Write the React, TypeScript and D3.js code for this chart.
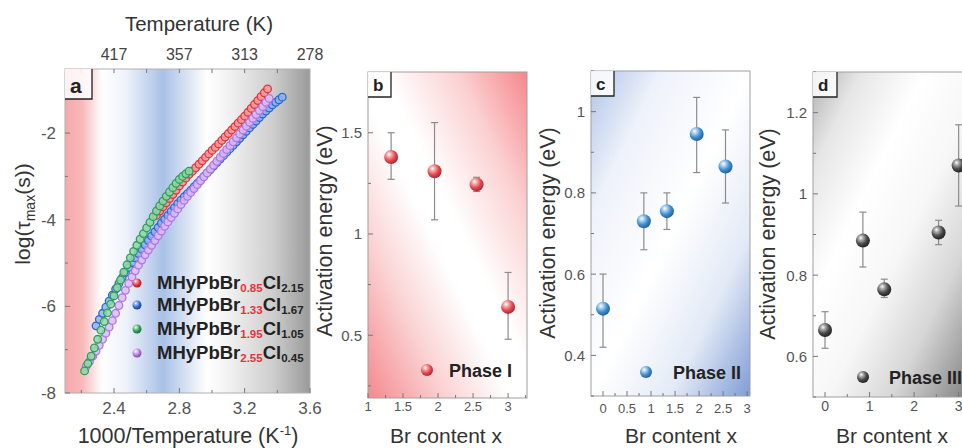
import React from 'react';
import * as d3 from 'd3';

// ---------- Panel a data: 1000/T (K^-1) vs log(tau_max) ----------
const redPts: [number, number][] = [
  [2.66, -3.90], [2.68, -3.80], [2.70, -3.70], [2.72, -3.61], [2.74, -3.51], [2.76, -3.42], [2.78, -3.32],
  [2.80, -3.22], [2.82, -3.13], [2.84, -3.04], [2.86, -2.95], [2.88, -2.88],
  [2.90, -2.80], [2.92, -2.72], [2.94, -2.64], [2.96, -2.56], [2.98, -2.48], [3.00, -2.40], [3.02, -2.33],
  [3.04, -2.25], [3.06, -2.17], [3.08, -2.09], [3.10, -2.01], [3.12, -1.93], [3.14, -1.85], [3.16, -1.77],
  [3.18, -1.69], [3.20, -1.61], [3.22, -1.52], [3.24, -1.43], [3.26, -1.34], [3.28, -1.25], [3.30, -1.16],
  [3.32, -1.07], [3.34, -0.98],
];
const greenPts: [number, number][] = [
  [2.22, -7.49], [2.24, -7.32], [2.26, -7.15], [2.28, -6.96], [2.30, -6.76], [2.32, -6.55], [2.34, -6.35],
  [2.36, -6.15], [2.38, -5.95], [2.40, -5.76], [2.42, -5.57], [2.44, -5.39], [2.46, -5.21], [2.48, -5.04],
  [2.50, -4.88], [2.52, -4.73], [2.54, -4.59], [2.56, -4.45], [2.58, -4.32], [2.60, -4.19], [2.62, -4.06],
  [2.64, -3.93], [2.66, -3.80], [2.68, -3.68], [2.70, -3.57], [2.72, -3.46], [2.74, -3.36], [2.76, -3.26],
  [2.78, -3.16], [2.80, -3.07], [2.82, -3.00], [2.84, -2.94], [2.86, -2.88],
];
const bluePts: [number, number][] = [
  [2.29, -6.45], [2.31, -6.30], [2.33, -6.16], [2.35, -6.02], [2.37, -5.88], [2.39, -5.74], [2.41, -5.60],
  [2.43, -5.47], [2.45, -5.34], [2.47, -5.22], [2.49, -5.10], [2.51, -4.99], [2.53, -4.88], [2.55, -4.78],
  [2.57, -4.68], [2.59, -4.58], [2.61, -4.48], [2.63, -4.38], [2.65, -4.28], [2.67, -4.18], [2.69, -4.08],
  [2.71, -3.99], [2.73, -3.90], [2.75, -3.81], [2.77, -3.72], [2.79, -3.63], [2.81, -3.55], [2.83, -3.47],
  [2.85, -3.40], [2.87, -3.32], [2.89, -3.24], [2.91, -3.16], [2.93, -3.08], [2.95, -3.00], [2.97, -2.92],
  [2.99, -2.84], [3.01, -2.76], [3.03, -2.68], [3.05, -2.60], [3.07, -2.52], [3.09, -2.44], [3.11, -2.36],
  [3.13, -2.28], [3.15, -2.20], [3.17, -2.12], [3.19, -2.04], [3.21, -1.96], [3.23, -1.88], [3.25, -1.80],
  [3.27, -1.72], [3.29, -1.64], [3.31, -1.56], [3.33, -1.49], [3.35, -1.42], [3.37, -1.35], [3.39, -1.29],
  [3.41, -1.23], [3.43, -1.17],
];
const purplePts: [number, number][] = [
  [2.23, -7.38], [2.25, -7.27], [2.27, -7.15], [2.29, -7.03], [2.31, -6.90], [2.33, -6.76], [2.35, -6.62],
  [2.37, -6.48], [2.39, -6.33], [2.41, -6.16], [2.43, -5.98], [2.45, -5.80], [2.47, -5.63], [2.49, -5.47],
  [2.51, -5.32], [2.53, -5.18], [2.55, -5.05], [2.57, -4.93], [2.59, -4.81], [2.61, -4.70], [2.63, -4.59],
  [2.65, -4.48], [2.67, -4.37], [2.69, -4.26], [2.71, -4.15], [2.73, -4.05], [2.75, -3.95], [2.77, -3.85],
  [2.79, -3.75], [2.81, -3.65], [2.83, -3.55], [2.85, -3.46], [2.87, -3.37], [2.89, -3.28], [2.91, -3.19],
  [2.93, -3.10], [2.95, -3.01], [2.97, -2.92], [2.99, -2.83], [3.01, -2.74], [3.03, -2.65], [3.05, -2.56],
  [3.07, -2.47], [3.09, -2.38], [3.11, -2.29], [3.13, -2.20], [3.15, -2.11], [3.17, -2.02], [3.19, -1.93],
  [3.21, -1.84], [3.23, -1.75], [3.25, -1.66], [3.27, -1.57], [3.29, -1.48], [3.31, -1.39], [3.33, -1.29],
  [3.35, -1.20],
];
const legendBrSub = ['0.85', '1.33', '1.95', '2.55'];
const legendClSub = ['2.15', '1.67', '1.05', '0.45'];
const topTempLabels = ['417', '357', '313', '278'];
const topTempPos = [2.4, 2.8, 3.2, 3.6];

// ---------- Panel b: Phase I ----------
const bX = [1.33, 1.95, 2.55, 3.0];
const bY = [1.38, 1.31, 1.245, 0.64];
const bLo = [1.27, 1.07, 1.21, 0.48];
const bHi = [1.50, 1.55, 1.28, 0.81];

// ---------- Panel c: Phase II ----------
const cX = [0, 0.85, 1.33, 1.95, 2.55];
const cY = [0.515, 0.73, 0.755, 0.945, 0.865];
const cLo = [0.42, 0.66, 0.71, 0.85, 0.775];
const cHi = [0.60, 0.80, 0.80, 1.035, 0.955];

// ---------- Panel d: Phase III ----------
const dX = [0, 0.85, 1.33, 2.55, 3.0];
const dY = [0.665, 0.885, 0.765, 0.905, 1.07];
const dLo = [0.62, 0.82, 0.745, 0.875, 0.97];
const dHi = [0.71, 0.955, 0.79, 0.935, 1.17];

const FONT = '"Liberation Sans", Arial, sans-serif';
const fmt = (v: number) => String(+v.toFixed(2));

type Lin = d3.ScaleLinear<number, number>;

function Frame({ x, y, color = '#a0a0a0' }: { x: Lin; y: Lin; color?: string }) {
  const [x0, x1] = x.range();
  const [y0, y1] = y.range();
  return <rect x={x0} y={y1} width={x1 - x0} height={y0 - y1} fill="none" stroke={color} strokeWidth={1} />;
}

function LeftAxis({ x, y, major, minor, fs, gap = 6 }: { x: Lin; y: Lin; major: number[]; minor: number[]; fs: number; gap?: number }) {
  const x0 = x.range()[0];
  return (
    <g>
      {minor.map((v, i) => <line key={'m' + i} x1={x0} x2={x0 + 3} y1={y(v)} y2={y(v)} stroke="#777" />)}
      {major.map((v, i) => (
        <g key={i}>
          <line x1={x0} x2={x0 + 5} y1={y(v)} y2={y(v)} stroke="#777" />
          <text x={x0 - gap} y={y(v)} dy="0.36em" textAnchor="end" fontSize={fs} fill="#555" fontFamily={FONT}>{fmt(v)}</text>
        </g>
      ))}
    </g>
  );
}

function BottomAxis({ x, y, major, minor, fs, base }: { x: Lin; y: Lin; major: number[]; minor: number[]; fs: number; base: number }) {
  const y0 = y.range()[0];
  return (
    <g>
      {minor.map((v, i) => <line key={'m' + i} x1={x(v)} x2={x(v)} y1={y0} y2={y0 - 3} stroke="#777" />)}
      {major.map((v, i) => (
        <g key={i}>
          <line x1={x(v)} x2={x(v)} y1={y0} y2={y0 - 5} stroke="#777" />
          <text x={x(v)} y={base} textAnchor="middle" fontSize={fs} fill="#555" fontFamily={FONT}>{fmt(v)}</text>
        </g>
      ))}
    </g>
  );
}

function PanelLabel({ x, y, letter, w, h, fs }: { x: number; y: number; letter: string; w: number; h: number; fs: number }) {
  return (
    <g>
      <rect x={x} y={y} width={w} height={h} fill="#fff" fillOpacity={0.85} />
      <path d={`M${x},${y + h}H${x + w}V${y}`} fill="none" stroke="#222" strokeWidth={1.3} />
      <text x={x + 5} y={y + h - 6} fontSize={fs} fontWeight="bold" fill="#222" fontFamily={FONT}>{letter}</text>
    </g>
  );
}

function ErrorScatter({ x, y, xs, ys, lo, hi, grad, r = 7 }: { x: Lin; y: Lin; xs: number[]; ys: number[]; lo: number[]; hi: number[]; grad: string; r?: number }) {
  return (
    <g>
      {xs.map((v, i) => (
        <g key={i} stroke="#8c8c8c" strokeWidth={1.2}>
          <line x1={x(v)} x2={x(v)} y1={y(lo[i])} y2={y(hi[i])} />
          <line x1={x(v) - 3.5} x2={x(v) + 3.5} y1={y(lo[i])} y2={y(lo[i])} />
          <line x1={x(v) - 3.5} x2={x(v) + 3.5} y1={y(hi[i])} y2={y(hi[i])} />
        </g>
      ))}
      {xs.map((v, i) => <circle key={'c' + i} cx={x(v)} cy={y(ys[i])} r={r} fill={`url(#${grad})`} />)}
    </g>
  );
}

function Sphere({ id, light, base, dark }: { id: string; light: string; base: string; dark: string }) {
  return (
    <radialGradient id={id} cx="0.38" cy="0.35" r="0.7" fx="0.35" fy="0.3">
      <stop offset="0" stopColor="#ffffff" />
      <stop offset="0.22" stopColor={light} />
      <stop offset="0.6" stopColor={base} />
      <stop offset="1" stopColor={dark} />
    </radialGradient>
  );
}

export default function App() {
  const ax = d3.scaleLinear().domain([2.1, 3.6]).range([65, 310]);
  const ay = d3.scaleLinear().domain([-8, -0.52]).range([393, 69]);
  const bx = d3.scaleLinear().domain([1, 3.27]).range([368, 527]);
  const by = d3.scaleLinear().domain([0.19, 1.8]).range([398, 72]);
  const cx = d3.scaleLinear().domain([-0.25, 3.06]).range([591, 750]);
  const cy = d3.scaleLinear().domain([0.3, 1.1]).range([396, 71]);
  const dx = d3.scaleLinear().domain([-0.27, 3.3]).range([813, 972]);
  const dy = d3.scaleLinear().domain([0.5, 1.3]).range([397, 72]);

  const series = [
    { pts: redPts, color: '#e3343a', fill: '#f49a9d' },
    { pts: bluePts, color: '#2c68d0', fill: '#8fb2ee' },
    { pts: purplePts, color: '#b274e6', fill: '#dcbdf5' },
    { pts: greenPts, color: '#2f9e57', fill: '#8fd6a8' },
  ];
  const legendGrads = ['lg-red', 'lg-blue', 'lg-green', 'lg-purple'];
  const legendRowY = [283, 305, 329, 353];

  const [ax0, ax1] = ax.range();
  const [ay0, ay1] = ay.range();

  return (
    <svg width={962} height={448} style={{ position: 'absolute', left: 0, top: 0, background: '#fff' }} fontFamily={FONT}>
      <defs>
        <linearGradient id="bgA" x1="0" y1="0" x2="1" y2="0">
          <stop offset="0" stopColor="#f7a9ab" />
          <stop offset="0.07" stopColor="#f8b8b9" />
          <stop offset="0.15" stopColor="#ffffff" />
          <stop offset="0.25" stopColor="#eef2fa" />
          <stop offset="0.4" stopColor="#a9c1e7" />
          <stop offset="0.5" stopColor="#dae4f3" />
          <stop offset="0.58" stopColor="#ffffff" />
          <stop offset="0.66" stopColor="#f3f3f3" />
          <stop offset="0.85" stopColor="#cdcdcd" />
          <stop offset="1" stopColor="#9a9a9a" />
        </linearGradient>
        <linearGradient id="bgB" x1="0" y1="1" x2="1" y2="0">
          <stop offset="0" stopColor="#f4898d" />
          <stop offset="0.25" stopColor="#fbd3d4" />
          <stop offset="0.45" stopColor="#ffffff" />
          <stop offset="0.55" stopColor="#ffffff" />
          <stop offset="0.78" stopColor="#fbd0d1" />
          <stop offset="1" stopColor="#f5878b" />
        </linearGradient>
        <linearGradient id="bgC" x1="0" y1="0" x2="1" y2="1">
          <stop offset="0" stopColor="#aec3e8" />
          <stop offset="0.22" stopColor="#eef2fa" />
          <stop offset="0.5" stopColor="#ffffff" />
          <stop offset="0.75" stopColor="#e3eaf6" />
          <stop offset="1" stopColor="#7f9dd6" />
        </linearGradient>
        <linearGradient id="bgD" x1="0" y1="0" x2="1" y2="1">
          <stop offset="0" stopColor="#b0b0b0" />
          <stop offset="0.15" stopColor="#e6e6e6" />
          <stop offset="0.35" stopColor="#ffffff" />
          <stop offset="0.55" stopColor="#f7f7f7" />
          <stop offset="0.75" stopColor="#d6d6d6" />
          <stop offset="1" stopColor="#7e7e7e" />
        </linearGradient>
        <Sphere id="sph-red" light="#f7b3b5" base="#e64a50" dark="#a3242a" />
        <Sphere id="sph-blue" light="#b4d6f2" base="#3f8ed0" dark="#1f5a92" />
        <Sphere id="sph-grey" light="#b0b0b0" base="#4a4a4a" dark="#1c1c1c" />
        <Sphere id="lg-red" light="#f6a0a3" base="#e3343a" dark="#a01e24" />
        <Sphere id="lg-blue" light="#9fbcf0" base="#2c68d0" dark="#17408a" />
        <Sphere id="lg-green" light="#a5dcb8" base="#2f9e57" dark="#1a6a37" />
        <Sphere id="lg-purple" light="#e2cbf7" base="#b274e6" dark="#7a44a8" />
        <clipPath id="clipA"><rect x={ax0} y={ay1} width={ax1 - ax0} height={ay0 - ay1} /></clipPath>
      </defs>

      {/* ================= Panel a ================= */}
      <rect x={ax0} y={ay1} width={ax1 - ax0} height={ay0 - ay1} fill="url(#bgA)" />
      <g clipPath="url(#clipA)">
        {series.map((s, si) => (
          <g key={si}>
            {s.pts.map((p, i) => (
              <circle key={i} cx={ax(p[0])} cy={ay(p[1])} r={3.8} fill={s.fill} fillOpacity={0.85} stroke={s.color} strokeWidth={1.3} />
            ))}
          </g>
        ))}
      </g>
      <Frame x={ax} y={ay} color="#b0b0b0" />
      <LeftAxis x={ax} y={ay} major={[-8, -6, -4, -2]} minor={[-7, -5, -3, -1]} fs={17} gap={9} />
      <BottomAxis x={ax} y={ay} major={[2.4, 2.8, 3.2, 3.6]} minor={[2.2, 2.6, 3.0, 3.4]} fs={17} base={414} />
      {[2.2, 2.4, 2.6, 2.8, 3.0, 3.2, 3.4].map((v, i) => (
        <line key={'tt' + i} x1={ax(v)} x2={ax(v)} y1={ay1} y2={ay1 + 4} stroke="#777" />
      ))}
      {topTempPos.map((v, i) => (
        <text key={'tl' + i} x={ax(v)} y={60} textAnchor="middle" fontSize={16} fill="#444">{topTempLabels[i]}</text>
      ))}
      <text x={199} y={31} textAnchor="middle" fontSize={20.5} fill="#333">Temperature (K)</text>
      <text x={188} y={443} textAnchor="middle" fontSize={21.5} fill="#333">
        1000/Temperature (K<tspan dy={-8} fontSize={13}>-1</tspan><tspan dy={8}>)</tspan>
      </text>
      <text transform="translate(30,214) rotate(-90)" textAnchor="middle" fontSize={21} fill="#333">
        log(τ<tspan dy={5} fontSize={14}>max</tspan><tspan dy={-5}>(s))</tspan>
      </text>
      <PanelLabel x={ax0} y={ay1} letter="a" w={27} h={30} fs={21} />
      {legendRowY.map((yy, i) => (
        <g key={'lg' + i}>
          <circle cx={137} cy={yy} r={4.5} fill={`url(#${legendGrads[i]})`} />
          <text x={157} y={yy + 6} fontSize={18.5} fontWeight="bold" fill="#222">
            MHyPbBr<tspan dy={3} fontSize={11.5} fill="#e3343a">{legendBrSub[i]}</tspan>
            <tspan dy={-3}>Cl</tspan>
            <tspan dy={3} fontSize={11.5}>{legendClSub[i]}</tspan>
          </text>
        </g>
      ))}

      {/* ================= Panel b ================= */}
      <rect x={bx.range()[0]} y={by.range()[1]} width={bx.range()[1] - bx.range()[0]} height={by.range()[0] - by.range()[1]} fill="url(#bgB)" />
      <Frame x={bx} y={by} />
      <LeftAxis x={bx} y={by} major={[0.5, 1, 1.5]} minor={[0.25, 0.75, 1.25, 1.75]} fs={15} />
      <BottomAxis x={bx} y={by} major={[1, 1.5, 2, 2.5, 3]} minor={[1.25, 1.75, 2.25, 2.75, 3.25]} fs={13} base={411} />
      <ErrorScatter x={bx} y={by} xs={bX} ys={bY} lo={bLo} hi={bHi} grad="sph-red" />
      <PanelLabel x={368} y={72} letter="b" w={23} h={25} fs={17} />
      <circle cx={427} cy={370} r={6} fill="url(#sph-red)" />
      <text x={449} y={377} fontSize={18} fontWeight="bold" fill="#222">Phase I</text>
      <text transform="translate(332,231) rotate(-90)" textAnchor="middle" fontSize={21.5} fill="#333">Activation energy (eV)</text>
      <text x={446} y={443} textAnchor="middle" fontSize={21} fill="#333">Br content x</text>

      {/* ================= Panel c ================= */}
      <rect x={cx.range()[0]} y={cy.range()[1]} width={cx.range()[1] - cx.range()[0]} height={cy.range()[0] - cy.range()[1]} fill="url(#bgC)" />
      <Frame x={cx} y={cy} />
      <LeftAxis x={cx} y={cy} major={[0.4, 0.6, 0.8, 1]} minor={[0.3, 0.5, 0.7, 0.9, 1.1]} fs={15} />
      <BottomAxis x={cx} y={cy} major={[0, 0.5, 1, 1.5, 2, 2.5, 3]} minor={[0.25, 0.75, 1.25, 1.75, 2.25, 2.75]} fs={13} base={413} />
      <ErrorScatter x={cx} y={cy} xs={cX} ys={cY} lo={cLo} hi={cHi} grad="sph-blue" />
      <PanelLabel x={591} y={71} letter="c" w={23} h={25} fs={17} />
      <circle cx={646} cy={372} r={6} fill="url(#sph-blue)" />
      <text x={673} y={379} fontSize={18} fontWeight="bold" fill="#222">Phase II</text>
      <text transform="translate(555,233) rotate(-90)" textAnchor="middle" fontSize={21.5} fill="#333">Activation energy (eV)</text>
      <text x={681} y={443} textAnchor="middle" fontSize={21} fill="#333">Br content x</text>

      {/* ================= Panel d ================= */}
      <rect x={dx.range()[0]} y={dy.range()[1]} width={dx.range()[1] - dx.range()[0]} height={dy.range()[0] - dy.range()[1]} fill="url(#bgD)" />
      <Frame x={dx} y={dy} />
      <LeftAxis x={dx} y={dy} major={[0.6, 0.8, 1, 1.2]} minor={[0.5, 0.7, 0.9, 1.1, 1.3]} fs={15} />
      <BottomAxis x={dx} y={dy} major={[0, 1, 2, 3]} minor={[0.5, 1.5, 2.5]} fs={14} base={411} />
      <ErrorScatter x={dx} y={dy} xs={dX} ys={dY} lo={dLo} hi={dHi} grad="sph-grey" />
      <PanelLabel x={813} y={72} letter="d" w={24} h={25} fs={17} />
      <circle cx={863} cy={377} r={6} fill="url(#sph-grey)" />
      <text x={889} y={384} fontSize={18} fontWeight="bold" fill="#222">Phase III</text>
      <text transform="translate(775,234) rotate(-90)" textAnchor="middle" fontSize={21.5} fill="#333">Activation energy (eV)</text>
      <text x={892} y={443} textAnchor="middle" fontSize={21} fill="#333">Br content x</text>
    </svg>
  );
}
